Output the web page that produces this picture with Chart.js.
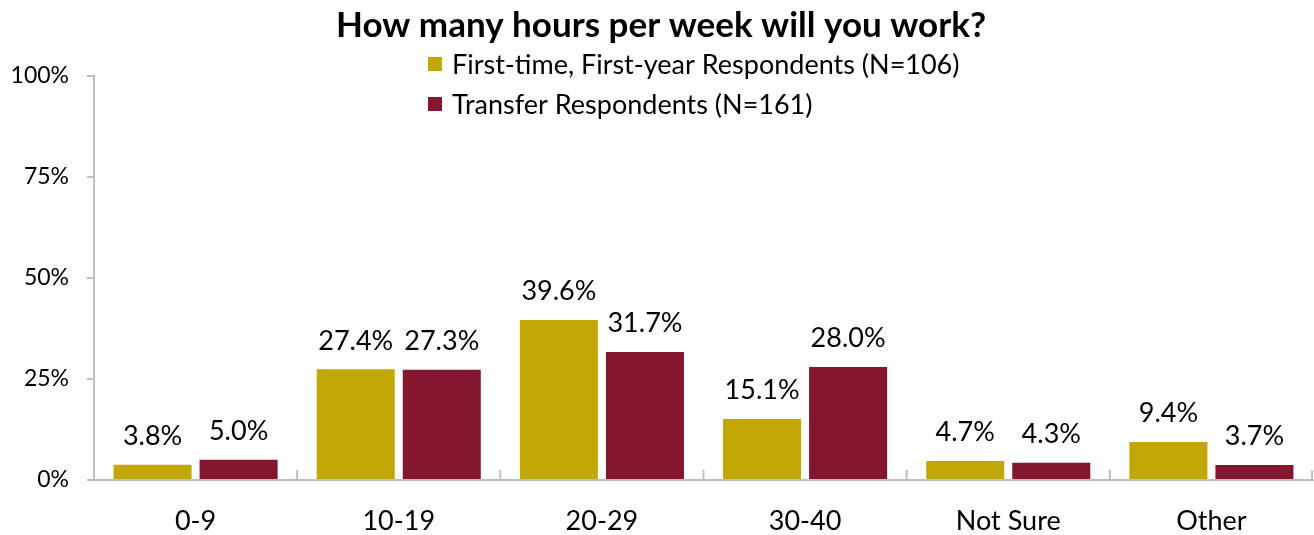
<!DOCTYPE html>
<html><head><meta charset="utf-8">
<script src="https://cdn.jsdelivr.net/npm/chart.js@4.4.0/dist/chart.umd.min.js"></script>
<style>html,body{margin:0;padding:0;background:#fff}#wrap{width:1314px;height:535px;position:relative}</style>
</head><body><div id="wrap"><canvas id="c" width="1314" height="535"></canvas></div>
<script>
const categories = ["0-9","10-19","20-29","30-40","Not Sure","Other"];
const firstYear = [3.8,27.4,39.6,15.1,4.7,9.4];
const transfer = [5.0,27.3,31.7,28.0,4.3,3.7];
const seriesNames = ["First-time, First-year Respondents (N=106)","Transfer Respondents (N=161)"];
const yTicks = [0,25,50,75,100];
const titleText = "How many hours per week will you work?";

const FONT = "Lato, 'Open Sans', sans-serif";
const GOLD = "#C2A806", MAROON = "#85162F", AXIS = "#BFBFBF";

const custom = {
  id: 'custom',
  afterDatasetsDraw(chart) {
    const ctx = chart.ctx, x = chart.scales.x, ca = chart.chartArea;
    ctx.save();
    // upward category ticks
    ctx.strokeStyle = AXIS; ctx.lineWidth = 2;
    const n = categories.length;
    for (let i = 0; i < n; i++) {
      const b = i < n - 1 ? (x.getPixelForValue(i) + x.getPixelForValue(i + 1)) / 2 : ca.right - 1;
      ctx.beginPath(); ctx.moveTo(b, ca.bottom); ctx.lineTo(b, ca.bottom - 10); ctx.stroke();
    }
    // data labels
    ctx.fillStyle = "#000"; ctx.font = "27px " + FONT; ctx.textAlign = "center"; ctx.textBaseline = "bottom";
    chart.data.datasets.forEach((ds, di) => {
      chart.getDatasetMeta(di).data.forEach((bar, i) => {
        ctx.fillText(ds.data[i].toFixed(1) + "%", bar.x, bar.y - 15);
      });
    });
    // title
    ctx.font = "bold 35px " + FONT; ctx.textBaseline = "middle";
    ctx.fillText(titleText, 661, 26);
    // legend
    ctx.textAlign = "left"; ctx.font = "27px " + FONT;
    chart.data.datasets.forEach((ds, di) => {
      const cy = 64 + di * 40;
      ctx.fillStyle = ds.backgroundColor; ctx.fillRect(428, cy - 7, 14, 14);
      ctx.fillStyle = "#000"; ctx.fillText(ds.label, 452, cy + 1);
    });
    ctx.restore();
  }
};

new Chart(document.getElementById('c'), {
  type: 'bar',
  data: {
    labels: categories,
    datasets: [
      {label: seriesNames[0], data: firstYear, backgroundColor: GOLD},
      {label: seriesNames[1], data: transfer, backgroundColor: MAROON}
    ]
  },
  options: {
    responsive: false, animation: false,
    layout: {padding: {top: 76, right: 1, left: 0, bottom: 0}},
    categoryPercentage: 0.847, barPercentage: 0.907,
    plugins: {legend: {display: false}, title: {display: false}, tooltip: {enabled: false}},
    scales: {
      x: {
        grid: {display: false, drawTicks: false},
        border: {display: true, color: AXIS, width: 2},
        ticks: {color: "#000", font: {family: FONT, size: 27}, padding: 25},
        afterFit: s => { s.height = 55; }
      },
      y: {
        min: 0, max: 100,
        afterBuildTicks: s => { s.ticks = yTicks.map(v => ({value: v})); },
        grid: {drawOnChartArea: false, drawTicks: true, tickLength: 7, color: AXIS, lineWidth: 2},
        border: {display: true, color: AXIS, width: 2},
        ticks: {color: "#000", font: {family: FONT, size: 23}, padding: 18, callback: v => v + "%"},
        afterFit: s => { s.width = 94; }
      }
    }
  },
  plugins: [custom]
});
</script></body></html>
